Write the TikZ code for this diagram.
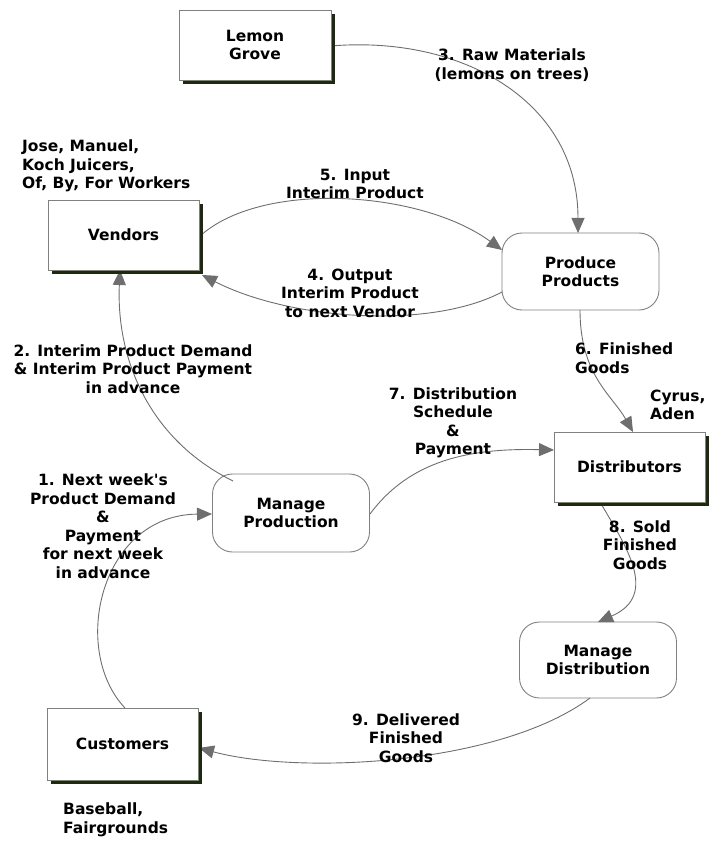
\documentclass[tikz,border=0pt]{standalone}
\usepackage{fontspec}
\setmainfont{DejaVu Sans}
\usetikzlibrary{arrows.meta}
\definecolor{shadowc}{HTML}{1E2A10}
\definecolor{linec}{HTML}{808080}
\definecolor{arrc}{HTML}{6E6E6E}
\tikzset{
  every node/.style={font=\fontsize{15.5}{18.5}\selectfont\bfseries, align=center},
  ext/.style={draw=linec, line width=0.9pt, fill=white, minimum width=151pt, minimum height=70pt},
  proc/.style={draw=linec, line width=0.9pt, fill=white, rounded corners=20pt, minimum width=157pt, minimum height=77pt},
  flow/.style={draw=arrc, line width=0.9pt, -{Triangle[length=15pt,width=13pt]}, arrc},
  lbl/.style={inner sep=0pt},
}
\newcommand{\shadowbox}[1]{\fill[shadowc] ([xshift=4pt,yshift=-4pt]#1.south west) rectangle ([xshift=4pt,yshift=-4pt]#1.north east);}
\begin{document}
\begin{tikzpicture}[x=1pt,y=-1pt]
\useasboundingbox (0,0) rectangle (724,850);
% external entities
\node[ext, minimum width=152pt] (grove) at (255,45) {Lemon\\Grove};
\node[ext] (vend) at (123.5,235) {Vendors};
\node[ext] (dist) at (629.5,467) {Distributors};
\node[ext, minimum height=72pt] (cust) at (122.5,744) {Customers};
% processes
\node[proc] (prod) at (580.5,271.5) {Produce\\Products};
\node[proc, minimum height=78pt] (mprod) at (291,513) {Manage\\Production};
\node[proc, minimum height=76pt] (mdist) at (598,660) {Manage\\Distribution};
% coordinates on borders
\coordinate (gR) at (331,46);
\coordinate (pT) at (578,233);
\coordinate (vR) at (199,237);
\coordinate (pL1) at (502,250);
\coordinate (pL2) at (502,292);
\coordinate (vC) at (202,275);
\coordinate (mpTL) at (233,481);
\coordinate (vB) at (120,270);
\coordinate (pB) at (580,310);
\coordinate (dT) at (633,432);
\coordinate (mpR) at (370,514);
\coordinate (dL) at (554,450);
\coordinate (dB) at (600,502);
\coordinate (mdT) at (598,622);
\coordinate (mdB) at (590,698);
\coordinate (cR) at (199,748);
\coordinate (cT) at (125,708);
\coordinate (mpL) at (212,514);
% connectors
\draw[flow] (gR) .. controls (460,35) and (578,100) .. (pT);
\draw[flow] (vR) .. controls (260,180) and (420,190) .. (pL1);
\draw[flow] (pL2) .. controls (430,330) and (290,320) .. (vC);
\draw[flow] (mpTL) .. controls (150,440) and (116,360) .. (vB);
\draw[flow] (pB) .. controls (580,375) and (612,395) .. (dT);
\draw[flow] (mpR) .. controls (410,460) and (470,448) .. (dL);
\draw[flow] (dB) .. controls (625,545) and (660,595) .. (mdT);
\draw[flow] (mdB) .. controls (500,765) and (300,775) .. (cR);
\draw[flow] (cT) .. controls (70,650) and (100,515) .. (mpL);
% shadows (drawn then boxes redrawn on top)
\shadowbox{grove}
\shadowbox{vend}
\shadowbox{dist}
\shadowbox{cust}
\node[ext, minimum width=152pt] at (255,45) {Lemon\\Grove};
\node[ext] at (123.5,235) {Vendors};
\node[ext] at (629.5,467) {Distributors};
\node[ext, minimum height=72pt] at (122.5,744) {Customers};
% labels
\node[lbl] (l3) at (512,65) {3. Raw Materials\\(lemons on trees)};
\node[lbl] (l5) at (355,184) {5. Input\\Interim Product};
\node[lbl] (l4) at (350,293) {4. Output\\Interim Product\\to next Vendor};
\node[lbl] (l2) at (133,369) {2. Interim Product Demand\\\& Interim Product Payment\\in advance};
\node[lbl, align=left, anchor=west] (l6) at (575,358) {6. Finished\\Goods};
\node[lbl, align=left, anchor=west] (cy) at (650,405) {Cyrus,\\Aden};
\node[lbl] (l7) at (453,423) {7. Distribution\\Schedule\\\&\\Payment};
\node[lbl] (l1) at (103,526) {1. Next week\textquotesingle s\\Product Demand\\\&\\Payment\\for next week\\in advance};
\node[lbl] (l8) at (640,545) {8. Sold\\Finished\\Goods};
\node[lbl] (l9) at (406,738) {9. Delivered\\Finished\\Goods};
\node[lbl, align=left, anchor=west] (jose) at (22,166) {Jose, Manuel,\\Koch Juicers,\\Of, By, For Workers};
\node[lbl, align=left, anchor=west] (base) at (63,820) {Baseball,\\Fairgrounds};
\end{tikzpicture}
\end{document}
